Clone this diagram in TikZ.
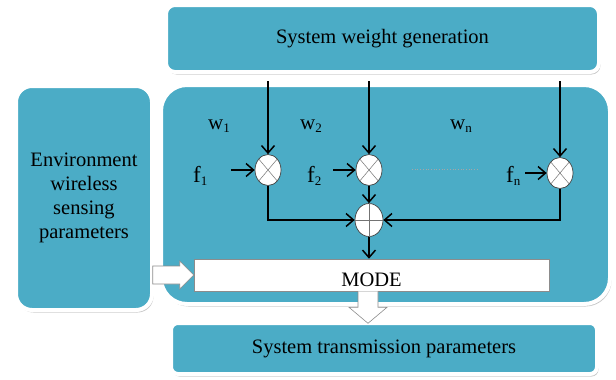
\documentclass[tikz,border=0pt]{standalone}
\usepackage{fontspec}
\setmainfont{Liberation Serif}
\usetikzlibrary{arrows.meta,shapes.geometric,shadows,calc}
\definecolor{boxteal}{RGB}{75,172,198}
\newcommand{\lowsub}[1]{\raisebox{-0.15em}{\fontsize{13}{13}\selectfont #1}}
\tikzset{
  panel/.style={fill=boxteal, draw=white, line width=4pt,
    drop shadow={shadow xshift=1.5pt, shadow yshift=-2.5pt, opacity=0.22, fill=black},
    font=\fontsize{20.5}{24}\selectfont, align=center, inner sep=0pt},
  opnode/.style={ellipse, draw=black!75, line width=0.7pt, fill=white, inner sep=0pt,
    minimum width=26pt, minimum height=31pt},
  conn/.style={-{Straight Barb[length=7.5pt,width=13pt]}, line width=1.5pt},
  hollow/.style={fill=white, draw=black!45, line width=0.6pt},
  wlab/.style={anchor=base west, inner sep=0pt, font=\fontsize{21}{21}\selectfont},
  flab/.style={anchor=base west, inner sep=0pt, font=\fontsize{23}{23}\selectfont},
}
\begin{document}
\begin{tikzpicture}[x=1pt,y=-1pt]
\useasboundingbox (0,0) rectangle (616,380);
% panels
\node[panel, rounded corners=9pt, minimum width=433pt, minimum height=67pt] (top) at (382.5,38.5) {System weight generation};
\node[panel, rounded corners=26pt, minimum width=449pt, minimum height=219pt] (main) at (385.5,194.5) {};
\node[panel, rounded corners=16pt, minimum width=136pt, minimum height=224pt] (left) at (84,198) {Environment\\wireless\\sensing\\parameters};
\node[panel, rounded corners=7pt, minimum width=426pt, minimum height=51pt] (bottom) at (384,348.5) {System transmission parameters};
% MODE box
\node[fill=white, draw=black!45, line width=0.6pt, minimum width=355pt, minimum height=32pt,
  inner sep=0pt, text height=22pt, text depth=0pt, font=\fontsize{20.5}{20.5}\selectfont] (mode) at (371.5,275) {MODE};
% operators
\node[opnode] (m1) at (268,170) {};
\node[opnode] (m2) at (369,170) {};
\node[opnode] (mn) at (560,173) {};
\node[opnode, minimum width=28pt, minimum height=33pt] (plus) at (369,220) {};
\foreach \m in {m1,m2,mn}{
  \draw[black!55, line width=0.5pt] (\m.north west) -- (\m.south east) (\m.north east) -- (\m.south west);
}
\draw[black!55, line width=0.5pt] (plus.north) -- (plus.south) (plus.west) -- (plus.east);
% free ends
\coordinate (w1s) at (268,81);
\coordinate (w2s) at (369,81);
\coordinate (wns) at (560,81);
\coordinate (f1s) at (231,170);
\coordinate (f2s) at (333,170);
\coordinate (fns) at (525,173);
% labels
\node[wlab] (w1) at (208,129) {w\lowsub{1}};
\node[wlab] (w2) at (300,129) {w\lowsub{2}};
\node[wlab] (wn) at (450,129) {w\lowsub{n}};
\node[flab] (f1) at (193,182) {f\lowsub{1}};
\node[flab] (f2) at (307,182) {f\lowsub{2}};
\node[flab] (fn) at (506,182) {f\lowsub{n}};
\coordinate (d1) at (412,169);
\coordinate (d2) at (478,169);
\draw[dotted, black!35, line width=0.7pt] (d1) -- (d2);
% connectors
\draw[conn] (w1s) -- (m1);
\draw[conn] (w2s) -- (m2);
\draw[conn] (wns) -- (mn);
\draw[conn] (f1s) -- (m1);
\draw[conn] (f2s) -- (m2);
\draw[conn] (fns) -- (mn);
\draw[conn] (m1.south) |- (plus.west);
\draw[conn] (m2) -- (plus);
\draw[conn] (mn.south) |- (plus.east);
\draw[conn] (plus) -- (plus |- mode.north);
% hollow arrows
\draw[hollow] ($(mode.west)+(-41,-9)$) -- ++(27,0) -- ++(0,-5) -- (mode.west) -- ++(-14,14) -- ++(0,-5) -- ++(-27,0) -- cycle;
\coordinate (mb) at ($(mode.south)+(-3.5,0)$);
\draw[hollow] ($(mb)+(-10,0)$) -- ++(0,16) -- ++(-9,0) -- ($(mb)+(0,32)$) -- ++(19,-16) -- ++(-9,0) -- ++(0,-16);
\end{tikzpicture}
\end{document}
